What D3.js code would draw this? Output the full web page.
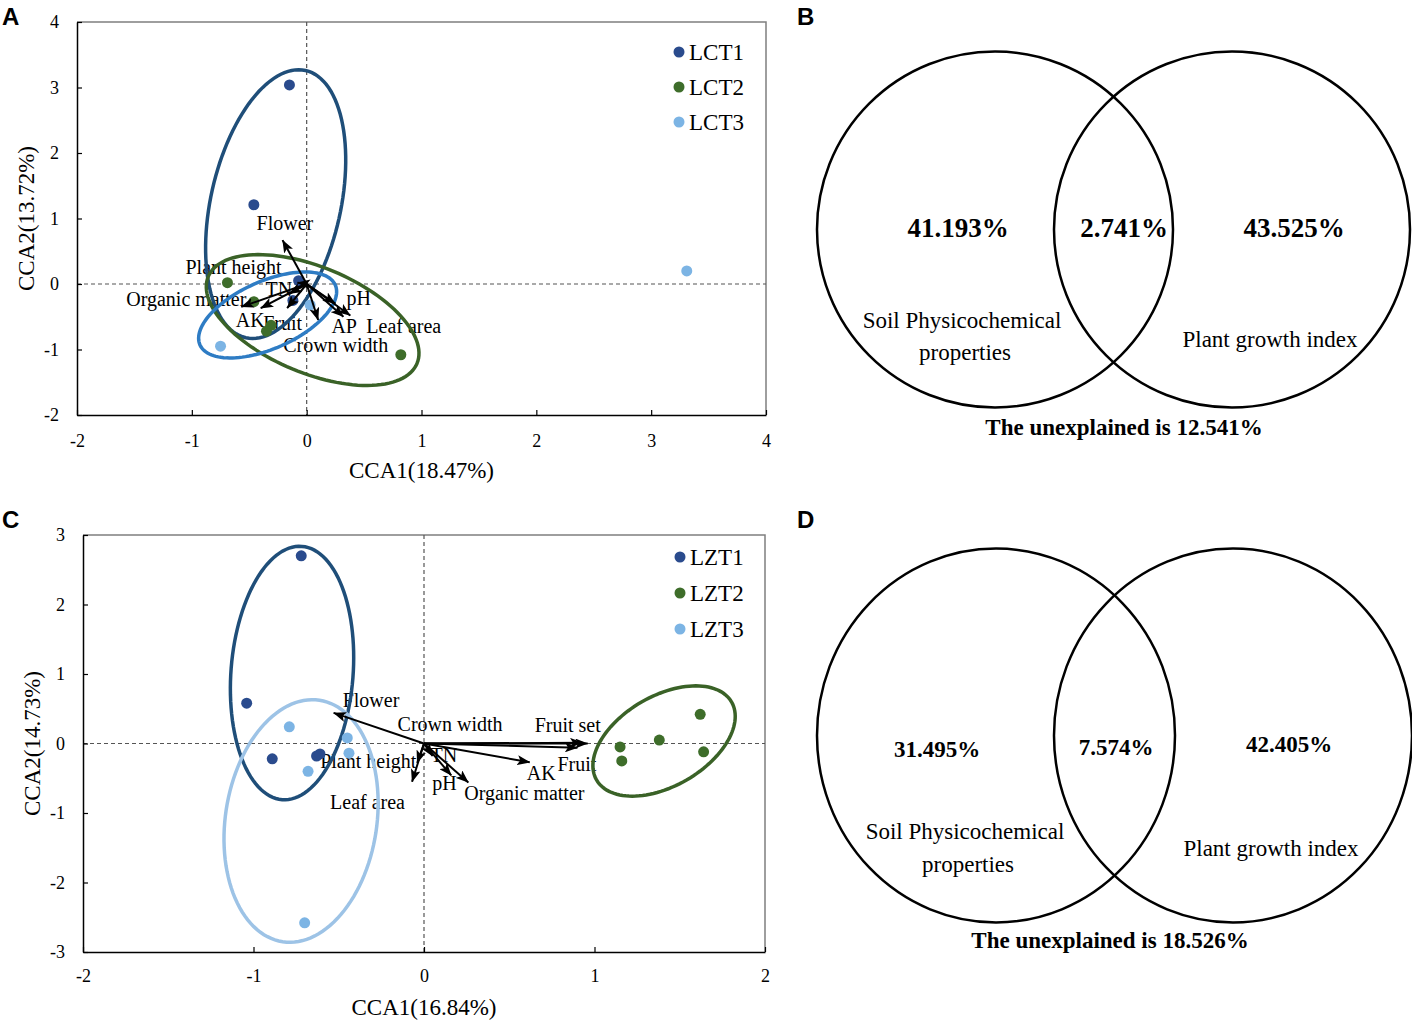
<!DOCTYPE html>
<html>
<head>
<meta charset="utf-8">
<script src="https://cdnjs.cloudflare.com/ajax/libs/d3/7.8.5/d3.min.js"></script>
<style>
    body { margin: 0; background: #fff; }
    svg text { font-family: "Liberation Serif", "Times New Roman", serif; fill: #000; }
    .panel-letter { font-family: "Liberation Sans", Arial, sans-serif !important; font-weight: bold; }
</style>
</head>
<body>
<div id="chart"></div>
<script>
// ---------- Panel A data (LCT) ----------
var lctGroups = ["LCT1", "LCT2", "LCT3"];
var lctSites = [
    { group: "LCT1", cca1: -0.15, cca2: 3.04 },
    { group: "LCT1", cca1: -0.46, cca2: 1.21 },
    { group: "LCT1", cca1: -0.07, cca2: 0.05 },
    { group: "LCT1", cca1: -0.12, cca2: -0.25 },
    { group: "LCT2", cca1: -0.69, cca2: 0.02 },
    { group: "LCT2", cca1: -0.46, cca2: -0.27 },
    { group: "LCT2", cca1: -0.31, cca2: -0.63 },
    { group: "LCT2", cca1: -0.35, cca2: -0.72 },
    { group: "LCT2", cca1: 0.82, cca2: -1.08 },
    { group: "LCT3", cca1: -0.75, cca2: -0.95 },
    { group: "LCT3", cca1: 0.03, cca2: -0.32 },
    { group: "LCT3", cca1: 3.31, cca2: 0.20 }
];
// confidence ellipses: centre + two conjugate half-axes, all in CCA units
var lctEllipses = [
    { group: "LCT1", cx: -0.27, cy: 1.22, ax: 0.26, ay: 2.04, bx: 0.552, by: -0.217 },
    { group: "LCT2", cx: 0.052, cy: -0.55, ax: 0.909, ay: -0.663, bx: -0.177, by: -0.747 },
    { group: "LCT3", cx: -0.34, cy: -0.473, ax: 0.589, ay: 0.458, bx: 0.119, by: -0.47 }
];
var lctArrows = [
    { name: "Flower", cca1: -0.21, cca2: 0.67 },
    { name: "Plant height", cca1: -0.08, cca2: 0.02 },
    { name: "TN", cca1: -0.15, cca2: -0.15 },
    { name: "Organic matter", cca1: -0.57, cca2: -0.35 },
    { name: "AK", cca1: -0.40, cca2: -0.37 },
    { name: "Fruit", cca1: -0.17, cca2: -0.37 },
    { name: "pH", cca1: 0.25, cca2: -0.30 },
    { name: "AP", cca1: 0.32, cca2: -0.50 },
    { name: "Leaf area", cca1: 0.38, cca2: -0.48 },
    { name: "Crown width", cca1: 0.10, cca2: -0.55 }
];
var lctXTicks = [-2, -1, 0, 1, 2, 3, 4];
var lctYTicks = [-2, -1, 0, 1, 2, 3, 4];
var lctAxisTitles = ["CCA1(18.47%)", "CCA2(13.72%)"];

// ---------- Panel C data (LZT) ----------
var lztGroups = ["LZT1", "LZT2", "LZT3"];
var lztSites = [
    { group: "LZT1", cca1: -0.72, cca2: 2.70 },
    { group: "LZT1", cca1: -1.04, cca2: 0.58 },
    { group: "LZT1", cca1: -0.89, cca2: -0.22 },
    { group: "LZT1", cca1: -0.63, cca2: -0.18 },
    { group: "LZT1", cca1: -0.61, cca2: -0.15 },
    { group: "LZT2", cca1: 1.62, cca2: 0.42 },
    { group: "LZT2", cca1: 1.38, cca2: 0.05 },
    { group: "LZT2", cca1: 1.15, cca2: -0.05 },
    { group: "LZT2", cca1: 1.16, cca2: -0.25 },
    { group: "LZT2", cca1: 1.64, cca2: -0.12 },
    { group: "LZT3", cca1: -0.79, cca2: 0.24 },
    { group: "LZT3", cca1: -0.45, cca2: 0.08 },
    { group: "LZT3", cca1: -0.44, cca2: -0.14 },
    { group: "LZT3", cca1: -0.68, cca2: -0.40 },
    { group: "LZT3", cca1: -0.70, cca2: -2.58 }
];
var lztEllipses = [
    { group: "LZT1", cx: -0.774, cy: 1.014, ax: 0.058, ay: 1.822, bx: 0.357, by: -0.069 },
    { group: "LZT2", cx: 1.408, cy: 0.036, ax: 0.396, ay: 0.561, bx: 0.132, by: -0.561 },
    { group: "LZT3", cx: -0.721, cy: -1.115, ax: 0.108, ay: 1.737, bx: 0.439, by: -0.164 }
];
var lztArrows = [
    { name: "Flower", cca1: -0.53, cca2: 0.44 },
    { name: "Crown width", cca1: 0.93, cca2: 0.01 },
    { name: "Fruit set", cca1: 0.96, cca2: 0.00 },
    { name: "Fruit", cca1: 0.90, cca2: -0.06 },
    { name: "AK", cca1: 0.62, cca2: -0.27 },
    { name: "Organic matter", cca1: 0.26, cca2: -0.56 },
    { name: "pH", cca1: 0.16, cca2: -0.46 },
    { name: "TN", cca1: 0.05, cca2: -0.18 },
    { name: "Plant height", cca1: -0.04, cca2: -0.28 },
    { name: "Leaf area", cca1: -0.07, cca2: -0.55 }
];
var lztXTicks = [-2, -1, 0, 1, 2];
var lztYTicks = [-3, -2, -1, 0, 1, 2, 3];
var lztAxisTitles = ["CCA1(16.84%)", "CCA2(14.73%)"];

// ---------- Venn data (B, D) ----------
var vennSetNames = ["Soil Physicochemical", "properties", "Plant growth index"];
var vennB = [41.193, 2.741, 43.525];
var vennBUnexplained = 12.541;
var vennD = [31.495, 7.574, 42.405];
var vennDUnexplained = 18.526;

// ---------- styles ----------
var pointColor = ["#2a4b8d", "#3e6d2a", "#7cb4e4"];
var ellipseColorA = ["#1f4e79", "#3a6227", "#2e7cc4"];
var ellipseColorC = ["#1f4e79", "#3a6227", "#9dc3e6"];

// label offsets from the arrow tip, in pixels
var lctLabelOffset = {
    "Flower": [-26, -10], "Plant height": [-112, -9], "TN": [-24, 2],
    "Organic matter": [-115, -1], "AK": [-25, 19], "Fruit": [-24, 22],
    "pH": [11, 1], "AP": [-12, 16], "Leaf area": [16, 18], "Crown width": [-35, 32]
};
var lztLabelOffset = {
    "Flower": [9, -6], "Crown width": [-185, -12], "Fruit set": [-53, -12],
    "Fruit": [-20, 23], "AK": [-3, 18], "Organic matter": [-4, 18],
    "pH": [-19, 15], "TN": [-2, 6], "Plant height": [-97, 5], "Leaf area": [-82, 27]
};

var svg = d3.select("#chart").append("svg")
    .attr("width", 1412)
    .attr("height", 1023);

svg.append("rect").attr("width", 1412).attr("height", 1023).attr("fill", "#fff");

/*
 * CCA biplot panel
 */
CcaPanel = function(_svg, _cfg) {
    this.svg = _svg;
    this.cfg = _cfg;
    this.initVis();
};

CcaPanel.prototype.initVis = function() {
    var vis = this;
    var c = vis.cfg;

    vis.g = vis.svg.append("g")
        .attr("transform", "translate(" + c.left + "," + c.top + ")");

    vis.x = d3.scaleLinear().domain(d3.extent(c.xTicks)).range([0, c.width]);
    vis.y = d3.scaleLinear().domain(d3.extent(c.yTicks)).range([c.height, 0]);
    vis.color = d3.scaleOrdinal().domain(c.groups).range(pointColor);
    vis.ellColor = d3.scaleOrdinal().domain(c.groups).range(c.ellipseColors);

    // arrow head
    vis.svg.append("defs").append("marker")
        .attr("id", "head-" + c.id)
        .attr("viewBox", "0 0 13 10")
        .attr("refX", 12.5)
        .attr("refY", 5)
        .attr("markerWidth", 13)
        .attr("markerHeight", 10)
        .attr("markerUnits", "userSpaceOnUse")
        .attr("orient", "auto")
        .append("path")
        .attr("d", "M0,0 L13,5 L0,10 L3,5 Z")
        .attr("fill", "#000");

    // top / right frame
    vis.g.append("path")
        .attr("d", "M0,0 H" + c.width + " V" + c.height)
        .attr("fill", "none")
        .attr("stroke", "#7f7f7f")
        .attr("stroke-width", 1.5);

    // zero lines
    vis.g.append("line")
        .attr("x1", 0).attr("x2", c.width)
        .attr("y1", vis.y(0)).attr("y2", vis.y(0))
        .attr("stroke", "#555").attr("stroke-width", 1.2)
        .attr("stroke-dasharray", "4,3");
    vis.g.append("line")
        .attr("x1", vis.x(0)).attr("x2", vis.x(0))
        .attr("y1", 0).attr("y2", c.height)
        .attr("stroke", "#555").attr("stroke-width", 1.2)
        .attr("stroke-dasharray", "4,3");

    // axes
    var fmt = function(d) { return String(d); };
    var xAxis = d3.axisBottom(vis.x).tickValues(c.xTicks).tickFormat(fmt)
        .tickSizeInner(-5).tickSizeOuter(0).tickPadding(c.xPad);
    var yAxis = d3.axisLeft(vis.y).tickValues(c.yTicks).tickFormat(fmt)
        .tickSizeInner(-5).tickSizeOuter(0).tickPadding(c.yPad);

    var gx = vis.g.append("g")
        .attr("transform", "translate(0," + c.height + ")")
        .call(xAxis);
    var gy = vis.g.append("g").call(yAxis);

    [gx, gy].forEach(function(ax) {
        ax.attr("font-family", null).attr("font-size", 18);
        ax.select(".domain").attr("stroke", "#000").attr("stroke-width", 1.5);
        ax.selectAll(".tick line").attr("stroke", "#000").attr("stroke-width", 1.2);
        ax.selectAll(".tick text").attr("fill", "#000");
    });

    // axis titles
    vis.g.append("text")
        .attr("x", c.width / 2)
        .attr("y", c.height + c.xTitleOffset)
        .attr("text-anchor", "middle")
        .attr("font-size", 23)
        .text(c.titles[0]);
    vis.g.append("text")
        .attr("transform", "translate(" + c.yTitleOffset + "," + (c.height / 2) + ") rotate(-90)")
        .attr("text-anchor", "middle")
        .attr("font-size", 23)
        .text(c.titles[1]);

    // arrow labels
    vis.g.selectAll(".arrow-label")
        .data(c.arrows)
        .enter()
        .append("text")
        .attr("class", "arrow-label")
        .attr("x", function(d) { return vis.x(d.cca1) + c.labelOffset[d.name][0]; })
        .attr("y", function(d) { return vis.y(d.cca2) + c.labelOffset[d.name][1]; })
        .attr("font-size", 20)
        .text(function(d) { return d.name; });

    // ellipses
    var angles = d3.range(0, 361, 3).map(function(a) { return a * Math.PI / 180; });
    var line = d3.line();
    vis.g.selectAll(".ellipse")
        .data(c.ellipses)
        .enter()
        .append("path")
        .attr("class", "ellipse")
        .attr("d", function(e) {
            return line(angles.map(function(t) {
                var px = e.cx + e.ax * Math.cos(t) + e.bx * Math.sin(t);
                var py = e.cy + e.ay * Math.cos(t) + e.by * Math.sin(t);
                return [vis.x(px), vis.y(py)];
            })) + "Z";
        })
        .attr("fill", "none")
        .attr("stroke", function(e) { return vis.ellColor(e.group); })
        .attr("stroke-width", 3.5);

    // sites
    vis.g.selectAll(".site")
        .data(c.sites)
        .enter()
        .append("circle")
        .attr("class", "site")
        .attr("cx", function(d) { return vis.x(d.cca1); })
        .attr("cy", function(d) { return vis.y(d.cca2); })
        .attr("r", 5.5)
        .attr("fill", function(d) { return vis.color(d.group); });

    // arrows
    vis.g.selectAll(".arrow")
        .data(c.arrows)
        .enter()
        .append("line")
        .attr("class", "arrow")
        .attr("x1", vis.x(0))
        .attr("y1", vis.y(0))
        .attr("x2", function(d) { return vis.x(d.cca1); })
        .attr("y2", function(d) { return vis.y(d.cca2); })
        .attr("stroke", "#000")
        .attr("stroke-width", 2)
        .attr("marker-end", "url(#head-" + c.id + ")");

    // legend
    vis.legend = vis.g.append("g")
        .attr("transform", "translate(" + (c.width - c.legendRight) + "," + c.legendTop + ")");
    var rows = vis.legend.selectAll("g")
        .data(c.groups)
        .enter()
        .append("g")
        .attr("transform", function(d, i) { return "translate(0," + (i * c.legendStep) + ")"; });
    rows.append("circle")
        .attr("r", 5.5)
        .attr("fill", function(d) { return vis.color(d); });
    rows.append("text")
        .attr("x", 10)
        .attr("y", 8)
        .attr("font-size", 23)
        .text(function(d) { return d; });
};

/*
 * Variation partitioning (Venn) panel
 */
VennPanel = function(_svg, _cfg) {
    this.svg = _svg;
    this.cfg = _cfg;
    this.initVis();
};

VennPanel.prototype.initVis = function() {
    var vis = this;
    var c = vis.cfg;
    var fmt = function(v) { return d3.format(".3f")(v) + "%"; };

    vis.g = vis.svg.append("g");

    vis.g.selectAll("ellipse")
        .data(c.centres)
        .enter()
        .append("ellipse")
        .attr("cx", function(d) { return d; })
        .attr("cy", c.cy)
        .attr("rx", c.rx)
        .attr("ry", c.ry)
        .attr("fill", "none")
        .attr("stroke", "#000")
        .attr("stroke-width", 2.5);

    vis.g.selectAll(".venn-value")
        .data(c.values)
        .enter()
        .append("text")
        .attr("class", "venn-value")
        .attr("x", function(d, i) { return c.valuePos[i][0]; })
        .attr("y", function(d, i) { return c.valuePos[i][1]; })
        .attr("text-anchor", "middle")
        .attr("font-weight", "bold")
        .attr("font-size", c.valueSize)
        .text(fmt);

    vis.g.selectAll(".venn-name")
        .data(vennSetNames)
        .enter()
        .append("text")
        .attr("class", "venn-name")
        .attr("x", function(d, i) { return c.namePos[i][0]; })
        .attr("y", function(d, i) { return c.namePos[i][1]; })
        .attr("text-anchor", "middle")
        .attr("font-size", 23)
        .text(function(d) { return d; });

    vis.g.append("text")
        .attr("x", c.unexplainedPos[0])
        .attr("y", c.unexplainedPos[1])
        .attr("text-anchor", "middle")
        .attr("font-weight", "bold")
        .attr("font-size", 23)
        .text("The unexplained is " + fmt(c.unexplained));
};

new CcaPanel(svg, {
    id: "a", left: 77, top: 22, width: 689, height: 393,
    groups: lctGroups, sites: lctSites, ellipses: lctEllipses, arrows: lctArrows,
    xTicks: lctXTicks, yTicks: lctYTicks, titles: lctAxisTitles,
    ellipseColors: ellipseColorA, labelOffset: lctLabelOffset,
    xPad: 19, yPad: 18, xTitleOffset: 63, yTitleOffset: -43,
    legendRight: 87, legendTop: 30, legendStep: 35
});

new CcaPanel(svg, {
    id: "c", left: 83, top: 535, width: 682, height: 417,
    groups: lztGroups, sites: lztSites, ellipses: lztEllipses, arrows: lztArrows,
    xTicks: lztXTicks, yTicks: lztYTicks, titles: lztAxisTitles,
    ellipseColors: ellipseColorC, labelOffset: lztLabelOffset,
    xPad: 17, yPad: 18, xTitleOffset: 63, yTitleOffset: -43,
    legendRight: 85, legendTop: 22, legendStep: 36
});

new VennPanel(svg, {
    centres: [995, 1232], cy: 229.5, rx: 178, ry: 178,
    values: vennB, valueSize: 27,
    valuePos: [[958, 237], [1124, 237], [1294, 237]],
    namePos: [[962, 328], [965, 360], [1270, 347]],
    unexplained: vennBUnexplained, unexplainedPos: [1124, 435]
});

new VennPanel(svg, {
    centres: [996, 1233], cy: 735.5, rx: 179, ry: 187,
    values: vennD, valueSize: 23,
    valuePos: [[937, 757], [1116, 755], [1289, 752]],
    namePos: [[965, 839], [968, 872], [1271, 856]],
    unexplained: vennDUnexplained, unexplainedPos: [1110, 948]
});

// panel letters
svg.selectAll(".panel-letter")
    .data([["A", 2, 25], ["B", 797, 25], ["C", 2, 528], ["D", 797, 528]])
    .enter()
    .append("text")
    .attr("class", "panel-letter")
    .attr("x", function(d) { return d[1]; })
    .attr("y", function(d) { return d[2]; })
    .attr("font-size", 24)
    .text(function(d) { return d[0]; });
</script>
</body>
</html>
